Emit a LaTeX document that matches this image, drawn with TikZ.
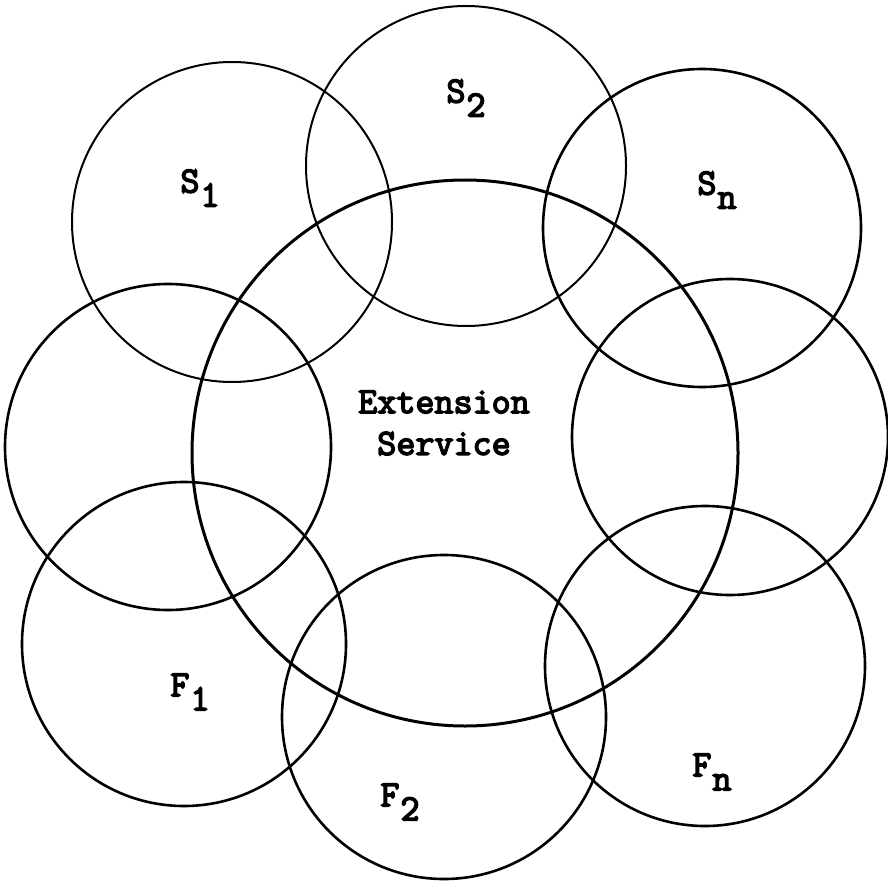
\documentclass[tikz,border=0pt]{standalone}
\usepackage{fontspec}
\newfontfamily\typer[AutoFakeBold=4]{Latin Modern Mono}
\usetikzlibrary{positioning}
\tikzset{
  ring/.style={circle, draw=black, line width=2.6pt, inner sep=0pt, minimum size=#1},
  tag/.style={font=\typer\bfseries\fontsize{37}{40}\selectfont, inner sep=0pt}
}
\newcommand{\low}[1]{\kern1pt\raisebox{-14pt}{#1}}

\begin{document}
\begin{tikzpicture}[x=1pt,y=-1pt]
  \useasboundingbox (0,0) rectangle (888,885);

  % Centre circle
  \node[ring=546pt, line width=3pt] (ext) at (465,453) {};

  % Ring of circles round it
  \node[ring=320pt, line width=2pt] (s1) at (232,222) {};
  \node[ring=320pt, line width=2pt] (s2) at (466,166) {};
  \node[ring=318pt] (sn) at (702,228) {};
  \node[ring=326pt] (lt) at (168,447) {};
  \node[ring=316pt] (rt) at (730,437) {};
  \node[ring=324pt] (f1) at (184,644) {};
  \node[ring=324pt] (f2) at (444,717) {};
  \node[ring=320pt] (fn) at (705,666) {};

  % Labels
  \node[tag] (ls1) at (200,188) {S\low{1}};
  \node[tag] (ls2) at (466,98) {S\low{2}};
  \node[tag] (lsn) at (717,190) {S\low{n}};
  \node[tag] (lext) at (444,402) {Extension};
  \node[tag, below=18pt of lext] (lsrv) {Service};
  \node[tag] (lf1) at (190,692) {F\low{1}};
  \node[tag] (lf2) at (400,802) {F\low{2}};
  \node[tag] (lfn) at (712,772) {F\low{n}};
\end{tikzpicture}
\end{document}
